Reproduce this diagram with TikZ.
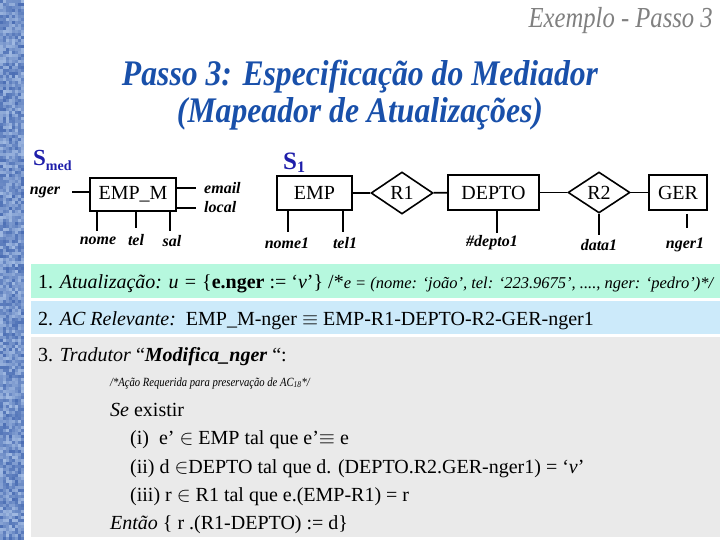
\documentclass[tikz,border=0pt]{standalone}
\usepackage{fontspec}
\setmainfont{Liberation Serif}
\newfontfamily\condfont[FakeStretch=0.88]{Liberation Serif}
\newfontfamily\narrowfont[FakeStretch=0.85]{Liberation Serif}
\usetikzlibrary{shapes.geometric}
\definecolor{titleblue}{RGB}{25,80,170}
\definecolor{sblue}{RGB}{30,30,170}
\definecolor{mint}{RGB}{182,248,222}
\definecolor{paleblue}{RGB}{204,234,250}
\definecolor{palegrey}{RGB}{234,234,234}
\definecolor{stripdark}{RGB}{75,110,180}
\definecolor{striplight}{RGB}{160,185,225}
\definecolor{headgrey}{RGB}{128,128,128}
\begin{document}
\begin{tikzpicture}[x=1pt,y=-1pt,
  ent/.style={draw, line width=1.6pt, inner sep=0pt, font=\fontsize{20}{24}\selectfont},
  rel/.style={diamond, draw, line width=1.6pt, inner sep=0pt, font=\fontsize{20}{24}\selectfont},
  attr/.style={inner sep=0pt, font=\fontsize{16}{18}\selectfont\bfseries\itshape},
  conn/.style={line width=1.8pt},
  legline/.style={line width=2.2pt},
  txt/.style={anchor=base west, inner sep=0pt, font=\fontsize{20}{24}\selectfont},
  titletxt/.style={anchor=base, inner sep=0pt, text=titleblue, font=\condfont\fontsize{36}{36}\selectfont\bfseries\itshape},
]
\useasboundingbox (0,0) rectangle (720,540);
\fill[white] (0,0) rectangle (720,540);
% textured strip
\pgfmathsetseed{7}
\foreach \i in {0,...,7}{\foreach \j in {0,...,179}{%
  \pgfmathtruncatemacro\t{100*rnd}%
  \fill[stripdark!\t!striplight] (3*\i,3*\j) rectangle ++(3,3);}}
% header and title
\node[anchor=base east, inner sep=0pt, text=headgrey, font=\narrowfont\fontsize{29}{30}\selectfont\itshape] (head) at (713,28) {Exemplo - Passo 3};
\node[titletxt] (t1) at (360,86) {Passo 3: Especificação do Mediador};
\node[titletxt] (t2) at (360,123) {(Mapeador de Atualizações)};
% schema labels
\node[anchor=base west, inner sep=0pt, text=sblue, font=\fontsize{23}{24}\selectfont\bfseries] (smed) at (33,166) {S\raisebox{-5pt}{\fontsize{14}{14}\selectfont med}};
\node[anchor=base west, inner sep=0pt, text=sblue, font=\fontsize{25}{26}\selectfont\bfseries] (s1) at (283,170) {S\raisebox{-3pt}{\fontsize{16}{16}\selectfont 1}};
% entities and relationships
\node[ent, minimum width=86pt, minimum height=33pt] (empm) at (133,194.5) {EMP\_M};
\node[ent, minimum width=75pt, minimum height=34pt] (emp) at (314.5,193) {EMP};
\node[rel, minimum width=62pt, minimum height=42pt] (r1) at (402,193) {R1};
\node[ent, minimum width=91pt, minimum height=35pt] (depto) at (493.5,192.5) {DEPTO};
\node[rel, minimum width=62pt, minimum height=41pt] (r2) at (599,192.5) {R2};
\node[ent, minimum width=58pt, minimum height=35pt] (ger) at (678,192.5) {GER};
\draw[conn] (emp) -- (r1);
\draw[conn] (r1) -- (depto);
\draw[conn] (depto) -- (r2);
\draw[conn] (r2) -- (ger);
% attributes
\node[attr] (nger) at (45,192) {nger};
\node[attr, anchor=west] (email) at (204,188) {email};
\node[attr, anchor=west] (local) at (204,207) {local};
\node[attr] (nome) at (98,241) {nome};
\node[attr] (tel) at (136,240) {tel};
\node[attr] (sal) at (172,241) {sal};
\node[attr] (nome1) at (287,243) {nome1};
\node[attr] (tel1) at (345,243) {tel1};
\node[attr] (depto1) at (492,243) {\#depto1};
\node[attr] (data1) at (599,245) {data1};
\node[attr] (nger1) at (685,245) {nger1};
\coordinate (cnger) at (72,192);
\coordinate (cemail) at (196,188);
\coordinate (clocal) at (196,208);
\coordinate (cnome) at (97,231);
\coordinate (ctel) at (136,228);
\coordinate (csal) at (170,231);
\coordinate (cnome1) at (288,232);
\coordinate (ctel1) at (343,232);
\coordinate (cdepto1) at (497,233);
\coordinate (cdata1) at (599,235);
\coordinate (cger1) at (687,214);
\coordinate (cnger1) at (687,228);
\draw[conn] (cnger) -- (cnger -| empm.west);
\draw[conn] (cemail -| empm.east) -- (cemail);
\draw[conn] (clocal -| empm.east) -- (clocal);
\draw[legline] (empm.south -| cnome) -- (cnome);
\draw[legline] (empm.south -| ctel) -- (ctel);
\draw[legline] (empm.south -| csal) -- (csal);
\draw[legline] (emp.south -| cnome1) -- (cnome1);
\draw[legline] (emp.south -| ctel1) -- (ctel1);
\draw[legline] (depto.south -| cdepto1) -- (cdepto1);
\draw[legline] (r2.south) -- (cdata1);
\draw[legline] (cger1) -- (cnger1);
% text panels
\fill[mint] (31,264) rectangle (720,298);
\fill[paleblue] (31,301) rectangle (720,334);
\fill[palegrey] (31,337) rectangle (720,537);
\node[txt] (l1) at (38,288) {1. \textit{Atualização: u =} \{\textbf{e.nger} := ‘\textit{v}’\} /*{\fontsize{16.5}{19}\selectfont\itshape e = (nome: ‘joão’, tel: ‘223.9675’, ...., nger: ‘pedro’)*/}};
\node[txt] (l2) at (38,325) {2. \textit{AC Relevante:}\ \ EMP\_M-nger $\equiv$ EMP-R1-DEPTO-R2-GER-nger1};
\node[txt] (l3) at (38,361) {3. \textit{Tradutor} “\textbf{\textit{Modifica\_nger}} “:};
\node[txt, font=\narrowfont\fontsize{12.5}{14}\selectfont\itshape] (c3) at (110,386) {/*Ação Requerida para preservação de AC\textsubscript{18}*/};
\node[txt] (se) at (110,416) {\textit{Se} existir};
\node[txt] (i1) at (130,444) {(i)\ \ e’ $\in$ EMP tal que e’$\equiv$ e};
\node[txt] (i2) at (130,473) {(ii) d $\in$DEPTO tal que d. (DEPTO.R2.GER-nger1) = ‘\textit{v}’};
\node[txt] (i3) at (130,501) {(iii) r $\in$ R1 tal que e.(EMP-R1) = r};
\node[txt] (en) at (110,529) {\textit{Então} \{ r .(R1-DEPTO) := d\}};
\end{tikzpicture}
\end{document}
